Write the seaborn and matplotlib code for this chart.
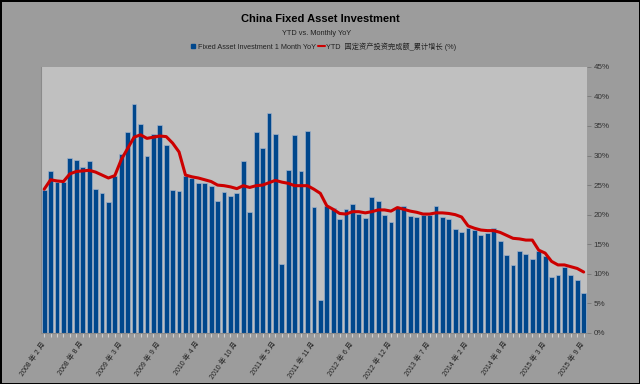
import numpy as np
import pandas as pd
import matplotlib
matplotlib.use('Agg')
import matplotlib.pyplot as plt
import seaborn as sns
from matplotlib.lines import Line2D
from matplotlib.ticker import FuncFormatter

# Months Feb 2008 .. Sep 2015 (no January figures)
months = [f'{y} 年 {m} 月' for y in range(2008, 2016) for m in range(2, 13)
          if not (y == 2015 and m > 9)]

# Fixed Asset Investment 1 Month YoY (%)
monthly = [24.2, 27.3, 25.5, 25.5, 29.5, 29.2, 28.1, 29.0, 24.3, 23.7, 22.2,
           26.6, 30.3, 34.0, 38.7, 35.3, 30.0, 33.7, 35.1, 31.7, 24.2, 24.0,
           26.6, 26.2, 25.3, 25.3, 24.9, 22.3, 23.9, 23.2, 23.6, 29.0, 20.4,
           34.0, 31.2, 37.2, 33.6, 11.7, 27.6, 33.4, 27.3, 34.2, 21.3, 5.6,
           21.4, 21.1, 19.2, 20.9, 21.8, 20.1, 19.5, 23.0, 22.3, 19.9, 18.8,
           21.1, 21.5, 19.8, 19.6, 20.0, 20.0, 21.4, 19.6, 19.2, 17.5, 17.1,
           17.7, 17.4, 16.6, 16.9, 17.8, 15.6, 13.2, 11.5, 13.9, 13.3, 12.5,
           13.8, 13.0, 9.5, 9.8, 11.1, 9.8, 9.0, 6.8]

# YTD 固定资产投资完成额_累计增长 (%)
ytd = [24.3, 25.9, 25.7, 25.6, 26.9, 27.3, 27.4, 27.5, 27.2, 26.7, 26.2,
       26.6, 29.3, 31.2, 33.1, 33.5, 32.9, 33.1, 33.3, 33.2, 32.1, 30.6,
       26.7, 26.4, 26.2, 25.9, 25.6, 25.0, 24.9, 24.7, 24.4, 24.9, 24.6,
       24.9, 25.0, 25.4, 25.8, 25.5, 25.3, 24.9, 24.9, 24.9, 24.3, 23.6,
       21.5, 20.9, 20.2, 20.1, 20.5, 20.5, 20.3, 20.5, 20.8, 20.8, 20.6,
       21.2, 20.9, 20.6, 20.4, 20.1, 20.1, 20.3, 20.3, 20.2, 20.0, 19.6,
       18.1, 17.7, 17.4, 17.3, 17.3, 17.0, 16.5, 16.0, 15.9, 15.7, 15.7,
       14.0, 13.5, 12.1, 11.5, 11.5, 11.2, 10.9, 10.3]

df = pd.DataFrame({'Month': months, 'Monthly': monthly, 'YTD': ytd})
n = len(df)

blue = '#00478c'
red = '#cc0000'

sns.set_style('white')
plt.rcParams['font.family'] = ['Liberation Sans', 'Noto Sans CJK SC', 'DejaVu Sans']

fig = plt.figure(figsize=(6.4, 3.84), dpi=100)
fig.patch.set_facecolor('#9c9c9c')
fig.patch.set_edgecolor('black')
fig.patch.set_linewidth(2)
ax = fig.add_axes([0.064, 0.133, 0.853, 0.693])
ax.set_facecolor('#c0c0c0')

sns.barplot(data=df, x='Month', y='Monthly', color=blue, saturation=1,
            edgecolor='#9fb0c8', linewidth=0.5, width=0.75, ax=ax)
sns.lineplot(x=np.arange(n), y=df['YTD'], color=red, linewidth=2.2, ax=ax)

ax.set_xlim(-0.5, n - 0.5)
ax.set_ylim(0, 45)
ax.set_xlabel('')
ax.set_ylabel('')

major = list(range(0, n, 6))
ax.set_xticks(major)
ax.set_xticklabels([months[i] for i in major], rotation=55, ha='right',
                   va='center', rotation_mode='anchor', fontsize=5, color='#222222')
ax.set_xticks(range(n), minor=True)
ax.tick_params(axis='x', which='both', bottom=True, length=3, color='#d0d0d0',
               width=0.8, pad=4)

ax.yaxis.tick_right()
ax.set_yticks(range(0, 46, 5))
ax.yaxis.set_major_formatter(FuncFormatter(lambda v, p: f'{v:.0f}%'))
ax.tick_params(axis='y', right=True, length=3, color='#777777', width=0.6,
               labelsize=5.8, labelcolor='#333333', pad=2)

for s in ['top', 'right']:
    ax.spines[s].set_visible(False)
ax.spines['left'].set_color('#8a8a8a')
ax.spines['bottom'].set_color('#8a8a8a')

fig.text(0.5, 0.951, 'China Fixed Asset Investment', ha='center', va='center',
         fontsize=8, fontweight='bold', color='black')
fig.text(0.495, 0.913, 'YTD vs. Monthly YoY', ha='center', va='center',
         fontsize=5.3, color='#222222')

handles = [Line2D([], [], marker='s', ls='', color=blue, markersize=3),
           Line2D([], [], color=red, lw=1.5)]
fig.legend(handles, ['Fixed Asset Investment 1 Month YoY',
                     'YTD  固定资产投资完成额_累计增长 (%)'],
           loc='center', bbox_to_anchor=(0.505, 0.879), ncol=2, frameon=False,
           fontsize=5.2, handlelength=0.9, handletextpad=0.2, columnspacing=0.3,
           labelcolor='#222222')

fig.savefig('out.png', dpi=100, facecolor=fig.get_facecolor(),
            edgecolor=fig.get_edgecolor())
